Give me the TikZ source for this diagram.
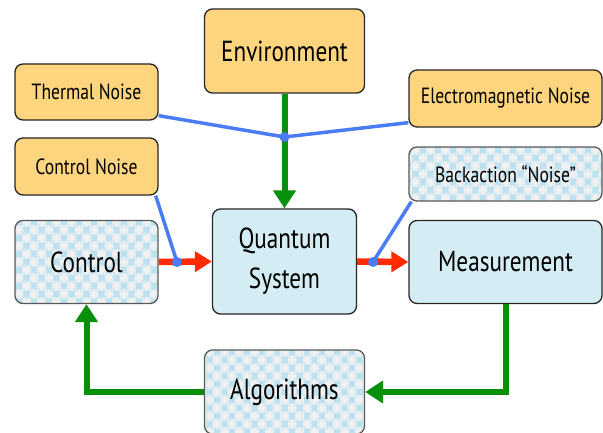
\documentclass[tikz,border=0pt]{standalone}
\usepackage{fontspec}
\setmainfont{PT Sans}
\newfontfamily\boxfont[FakeStretch=0.8]{PT Sans}
\usetikzlibrary{arrows.meta}
\definecolor{noiseorange}{HTML}{FDD57E}
\definecolor{qsblue}{HTML}{D4ECF3}
\definecolor{diablue}{HTML}{BCE2EF}
\definecolor{diagray}{HTML}{F1F1F1}
\definecolor{wireblue}{HTML}{4A7DF5}
\definecolor{loopgreen}{HTML}{08900A}
\definecolor{drivered}{HTML}{FF2A00}
% staggered diamonds for the classical boxes
\newcommand{\diamondfill}{
  \foreach \i in {-7,...,7}
    \foreach \j in {-4,...,4} {
      \fill[diablue] ([shift={(\i*15,\j*16)}]path picture bounding box.center)
        ++(0,-7) -- ++(6.5,7) -- ++(-6.5,7) -- ++(-6.5,-7) -- cycle;
      \fill[diablue] ([shift={(\i*15+7.5,\j*16+8)}]path picture bounding box.center)
        ++(0,-7) -- ++(6.5,7) -- ++(-6.5,7) -- ++(-6.5,-7) -- cycle;
    }
}

\begin{document}
\begin{tikzpicture}[x=1pt,y=1pt,line width=1pt,
    box/.style={draw=black!85, line width=1.3pt, rounded corners=8pt, align=center, inner sep=0pt,
      font=\boxfont\fontsize{29}{40}\selectfont},
    small/.style={box, font=\boxfont\fontsize{22}{26}\selectfont},
    noisebox/.style={small, fill=noiseorange},
    quantumbox/.style={box, fill=qsblue},
    classicalbox/.style={draw=black!65, fill=diagray, path picture={\diamondfill}},
    wire/.style={wireblue, line width=3.5pt},
    feed/.style={loopgreen, line width=6pt, -{Triangle[width=22pt,length=18pt]}},
    drive/.style={drivered, line width=6.5pt, -{Triangle[width=20pt,length=17pt]}},
    junction/.style={wireblue, radius=5pt}]

  \useasboundingbox (0,0) rectangle (603,432);

  % sources of noise
  \node[box, fill=noiseorange, minimum width=160pt, minimum height=84pt] (env) at (284.5,381) {Environment};
  \node[noisebox, minimum width=143pt, minimum height=56pt] (thermal) at (86.5,340) {Thermal Noise};
  \node[noisebox, minimum width=143pt, minimum height=57pt] (ctlnoise) at (86.5,265.5) {Control Noise};
  \node[noisebox, minimum width=193pt, minimum height=57pt] (emnoise) at (505.5,333.5) {Electromagnetic Noise};
  \node[small, classicalbox, minimum width=193pt, minimum height=54pt] (backaction) at (505.5,258) {Backaction “Noise”};

  % main chain
  \node[box, classicalbox, minimum width=143pt, minimum height=83pt] (ctl) at (86.5,170) {Control};
  \node[quantumbox, minimum width=144pt, minimum height=105pt] (qs) at (284.5,170.5) {Quantum\\System};
  \node[quantumbox, minimum width=193pt, minimum height=83pt] (meas) at (505.5,170) {Measurement};
  \node[box, classicalbox, minimum width=160pt, minimum height=84pt] (alg) at (284.5,40) {Algorithms};

  \coordinate (envjoin) at (284.5,295);
  \coordinate (ctljoin) at (177,170);
  \coordinate (measjoin) at (373,170);

  \draw[wire] ([yshift=5pt]thermal.south east) -- (envjoin);
  \draw[wire] ([yshift=5pt]emnoise.south west) -- (envjoin);
  \draw[feed] (env.south) -- (qs.north);

  \draw[drive] (ctl.east) -- (qs.west);
  \draw[drive] (qs.east) -- (meas.west);
  \draw[wire] ([xshift=-3pt]ctlnoise.south east) -- (ctljoin);
  \draw[wire] ([xshift=3pt]backaction.south west) -- (measjoin);

  % feedback loop
  \draw[feed] (meas.south) |- (alg.east);
  \draw[feed] (alg.west) -| (ctl.south);

  \fill[junction] (envjoin) circle;
  \fill[junction] (ctljoin) circle;
  \fill[junction] (measjoin) circle;

\end{tikzpicture}
\end{document}
